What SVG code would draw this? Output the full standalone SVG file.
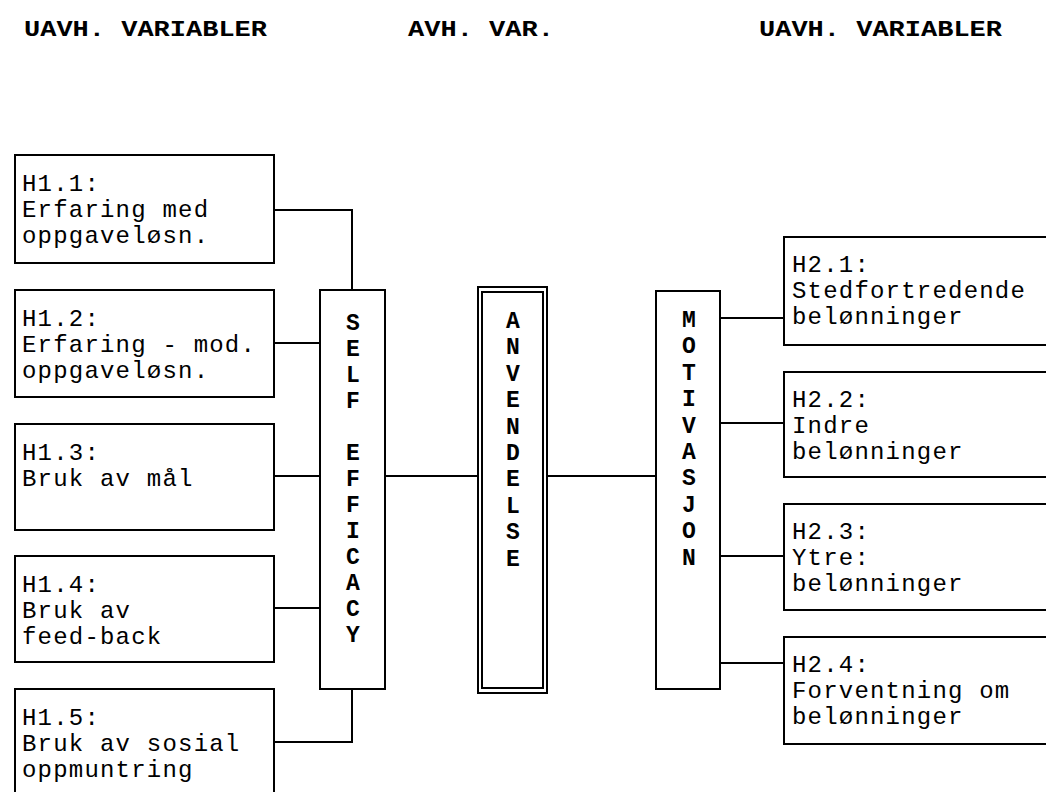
<svg xmlns="http://www.w3.org/2000/svg" width="1046" height="792" viewBox="0 0 1046 792">
<style>
.box{fill:#fff;stroke:#000;stroke-width:2}
.t{font-family:"Liberation Mono","Courier New",monospace;font-size:24px;letter-spacing:1.2px;fill:#000}
.h{font-family:"Liberation Mono","Courier New",monospace;font-size:22px;font-weight:bold;fill:#000}
.v{font-family:"Liberation Mono","Courier New",monospace;font-size:23px;font-weight:bold;fill:#000;text-anchor:middle}
.c{fill:none;stroke:#000;stroke-width:2}
</style>
<rect width="1046" height="792" fill="#fff"/>
<g id="headers">
<text class="h" x="24" y="36" textLength="243" lengthAdjust="spacingAndGlyphs">UAVH. VARIABLER</text>
<text class="h" x="408" y="36" textLength="146" lengthAdjust="spacingAndGlyphs">AVH. VAR.</text>
<text class="h" x="759" y="36" textLength="243" lengthAdjust="spacingAndGlyphs">UAVH. VARIABLER</text>
</g>
<g id="connectors">
<path class="c" d="M274 210H352V290"/>
<path class="c" d="M274 343H320"/>
<path class="c" d="M274 476H320"/>
<path class="c" d="M274 608H320"/>
<path class="c" d="M274 742H352V689"/>
<path class="c" d="M385 476H478"/>
<path class="c" d="M547 476H656"/>
<path class="c" d="M720 318H784"/>
<path class="c" d="M720 423H784"/>
<path class="c" d="M720 556H784"/>
<path class="c" d="M720 663H784"/>
</g>
<g id="h11">
<rect class="box" x="15" y="155" width="259" height="108"/>
<text class="t" x="22" y="191">H1.1:</text>
<text class="t" x="22" y="217">Erfaring med</text>
<text class="t" x="22" y="243">oppgaveløsn.</text>
</g>
<g id="h12">
<rect class="box" x="15" y="290" width="259" height="107"/>
<text class="t" x="22" y="326">H1.2:</text>
<text class="t" x="22" y="352">Erfaring - mod.</text>
<text class="t" x="22" y="378">oppgaveløsn.</text>
</g>
<g id="h13">
<rect class="box" x="15" y="424" width="259" height="106"/>
<text class="t" x="22" y="460">H1.3:</text>
<text class="t" x="22" y="486">Bruk av mål</text>
</g>
<g id="h14">
<rect class="box" x="15" y="556" width="259" height="106"/>
<text class="t" x="22" y="592">H1.4:</text>
<text class="t" x="22" y="618">Bruk av</text>
<text class="t" x="22" y="644">feed-back</text>
</g>
<g id="h15">
<rect class="box" x="15" y="689" width="259" height="120"/>
<text class="t" x="22" y="725">H1.5:</text>
<text class="t" x="22" y="751">Bruk av sosial</text>
<text class="t" x="22" y="777">oppmuntring</text>
</g>
<g id="selfefficacy">
<rect class="box" x="320" y="290" width="65" height="399"/>
<text class="v" x="353" y="330">S</text>
<text class="v" x="353" y="356">E</text>
<text class="v" x="353" y="382">L</text>
<text class="v" x="353" y="408">F</text>
<text class="v" x="353" y="460">E</text>
<text class="v" x="353" y="486">F</text>
<text class="v" x="353" y="512">F</text>
<text class="v" x="353" y="538">I</text>
<text class="v" x="353" y="564">C</text>
<text class="v" x="353" y="590">A</text>
<text class="v" x="353" y="616">C</text>
<text class="v" x="353" y="642">Y</text>
</g>
<g id="anvendelse">
<rect class="box" x="478" y="287" width="69" height="406"/>
<rect class="box" x="482" y="292" width="61" height="396"/>
<text class="v" x="513" y="328">A</text>
<text class="v" x="513" y="354">N</text>
<text class="v" x="513" y="381">V</text>
<text class="v" x="513" y="407">E</text>
<text class="v" x="513" y="434">N</text>
<text class="v" x="513" y="460">D</text>
<text class="v" x="513" y="486">E</text>
<text class="v" x="513" y="513">L</text>
<text class="v" x="513" y="539">S</text>
<text class="v" x="513" y="566">E</text>
</g>
<g id="motivasjon">
<rect class="box" x="656" y="291" width="64" height="398"/>
<text class="v" x="689" y="327">M</text>
<text class="v" x="689" y="353">O</text>
<text class="v" x="689" y="380">T</text>
<text class="v" x="689" y="406">I</text>
<text class="v" x="689" y="433">V</text>
<text class="v" x="689" y="459">A</text>
<text class="v" x="689" y="485">S</text>
<text class="v" x="689" y="512">J</text>
<text class="v" x="689" y="538">O</text>
<text class="v" x="689" y="565">N</text>
</g>
<g id="h21">
<rect class="box" x="784" y="237" width="290" height="108"/>
<text class="t" x="792" y="272">H2.1:</text>
<text class="t" x="792" y="298">Stedfortredende</text>
<text class="t" x="792" y="324">belønninger</text>
</g>
<g id="h22">
<rect class="box" x="784" y="372" width="290" height="105"/>
<text class="t" x="792" y="407">H2.2:</text>
<text class="t" x="792" y="433">Indre</text>
<text class="t" x="792" y="459">belønninger</text>
</g>
<g id="h23">
<rect class="box" x="784" y="504" width="290" height="106"/>
<text class="t" x="792" y="539">H2.3:</text>
<text class="t" x="792" y="565">Ytre:</text>
<text class="t" x="792" y="591">belønninger</text>
</g>
<g id="h24">
<rect class="box" x="784" y="637" width="290" height="107"/>
<text class="t" x="792" y="672">H2.4:</text>
<text class="t" x="792" y="698">Forventning om</text>
<text class="t" x="792" y="724">belønninger</text>
</g>
</svg>
